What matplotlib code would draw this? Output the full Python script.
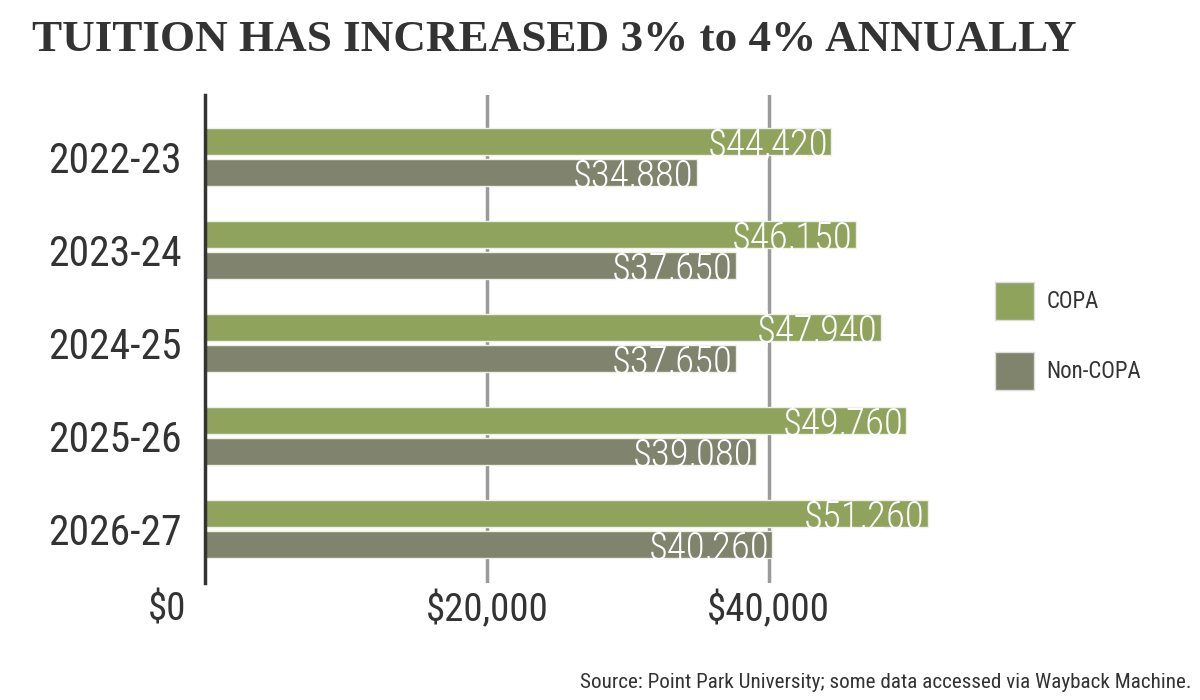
import matplotlib
matplotlib.use('Agg')
import numpy as np
from matplotlib import pyplot as plt
from matplotlib import font_manager
from matplotlib.transforms import ScaledTranslation
from matplotlib.patches import Patch

# data
years = ['2022-23', '2023-24', '2024-25', '2025-26', '2026-27']
copa = [44420, 46150, 47940, 49760, 51260]
non_copa = [34880, 37650, 37650, 39080, 40260]
x_ticks = [0, 20000, 40000]
x_tick_labels = ['$0', '$20,000', '$40,000']

green = '#8fa35d'
grey = '#80846c'
dark = '#333333'

# pick a narrow sans if there is one
names = {f.name for f in font_manager.fontManager.ttflist}
narrow = 'DejaVu Sans'
for n in ['Roboto Condensed', 'Liberation Sans Narrow', 'Open Sans Condensed', 'Noto Sans Condensed']:
    if n in names:
        narrow = n
        break

fig = plt.figure(figsize=(12, 7), dpi=100)
ax = fig.add_axes([205 / 1200, 1 - 583 / 700, 795 / 1200, 488 / 700])

y = np.arange(len(years))
h = 0.29
off = 0.165
b1 = ax.barh(y - off, copa, height=h, color=green, edgecolor='#eef0e8', linewidth=1, zorder=3)
b2 = ax.barh(y + off, non_copa, height=h, color=grey, edgecolor='#eef0e8', linewidth=1, zorder=3)

# value labels inside the bar ends
for bars, vals in [(b1, copa), (b2, non_copa)]:
    for bar, v in zip(bars, vals):
        ax.text(v - 200, bar.get_y() + bar.get_height() / 2 + 0.04, '${:,}'.format(v),
                ha='right', va='center', color='white', fontsize=28, fontweight='light',
                family=narrow, fontstretch='condensed', zorder=4)

ax.set_xlim(0, 56400)
ax.set_ylim(4.58, -0.667)

ax.set_yticks(y)
ax.set_yticklabels(years, fontsize=30, color=dark, family=narrow, fontstretch='condensed')
ax.set_xticks(x_ticks)
ax.set_xticklabels(x_tick_labels, fontsize=28, color=dark, family=narrow, fontstretch='condensed')
ax.tick_params(axis='y', length=0, pad=17)
ax.tick_params(axis='x', length=0, pad=6)
lbl = ax.get_xticklabels()[0]
lbl.set_transform(lbl.get_transform() + ScaledTranslation(-0.38, 0, fig.dpi_scale_trans))

for x in x_ticks[1:]:
    ax.axvline(x, color='#9a9a9a', linewidth=2.5, zorder=1)

for s in ['top', 'right', 'bottom']:
    ax.spines[s].set_visible(False)
ax.spines['left'].set_color(dark)
ax.spines['left'].set_linewidth(2.5)
ax.spines['left'].set_zorder(5)

handles = [Patch(facecolor=green, edgecolor='#dddddd'), Patch(facecolor=grey, edgecolor='#dddddd')]
fig.legend(handles, ['COPA', 'Non-COPA'], loc='upper left', bbox_to_anchor=(974 / 1200, 1 - 261 / 700),
           frameon=False, prop={'family': narrow, 'stretch': 'condensed', 'size': 16.5},
           labelcolor=dark, handlelength=1.7, handleheight=2.18, labelspacing=1.4, handletextpad=0.55)

fig.text(32 / 1200, 1 - 40 / 700, 'TUITION HAS INCREASED 3% to 4% ANNUALLY', ha='left', va='center',
         fontsize=32.5, fontweight='bold', family='Liberation Serif', color=dark)

fig.text(1192 / 1200, 1 - 683 / 700, 'Source: Point Park University; some data accessed via Wayback Machine.',
         ha='right', va='center', fontsize=15.2, color=dark, family=narrow, fontstretch='condensed')

plt.savefig('out.png', dpi=100)
